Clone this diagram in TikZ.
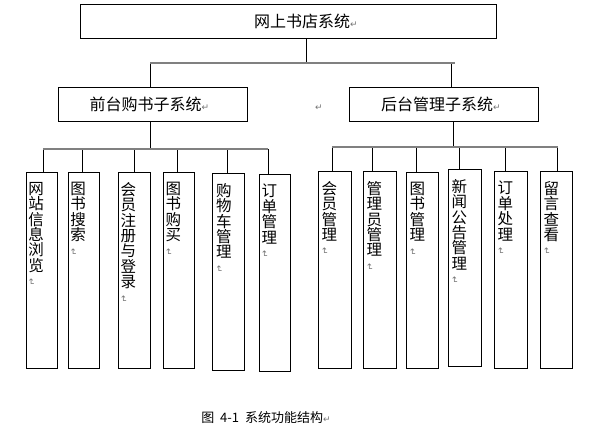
\documentclass[tikz,border=0pt]{standalone}
\usepackage{fontspec}
\usepackage{graphicx}
\setmainfont{Noto Sans CJK SC}
\newfontfamily\dejavu{DejaVu Sans}
\usetikzlibrary{calc}
\newcommand\pmark{{\dejavu\color{black!55}\fontsize{9}{9}\selectfont ↵}}
\newcommand\vpmark{\rotatebox{-90}{\pmark}}
\newcommand\myvfont{\fontsize{15.5}{15.4}\selectfont\setlength{\lineskiplimit}{-20pt}}
\tikzset{
  box/.style={draw=black, line width=0.8pt, inner sep=0pt, fill=none},
  vbox/.style={box, anchor=north west},
  txt/.style={inner sep=0pt, font=\fontsize{16}{16}\selectfont},
  vtxt/.style={inner sep=0pt, anchor=north west, align=left, font=\myvfont},
  conn/.style={draw=black, line width=0.8pt},
  bar/.style={draw=black!50, line width=2pt},
  captxt/.style={inner sep=0pt, font=\fontsize{13}{13}\selectfont},
}
\begin{document}
\begin{tikzpicture}[x=1pt,y=-1pt]
\useasboundingbox (0,0) rectangle (589,438);
% top level
\node[box, minimum width=416, minimum height=34] (root) at (288,21.3) {};
\node[txt] (roott) at (306,21) {网上书店系统\pmark};
% second level
\node[box, minimum width=189, minimum height=34] (front) at (152.8,104.3) {};
\node[txt] (frontt) at (149.5,104) {前台购书子系统\pmark};
\node[box, minimum width=189, minimum height=34] (back) at (443.8,104.3) {};
\node[txt] (backt) at (440.8,104) {后台管理子系统\pmark};
\node[inner sep=0pt] (stray) at (319,108) {\pmark};
% third level boxes
\node[vbox, minimum width=31.3, minimum height=196] (b1) at (25.7,172) {};
\node[vbox, minimum width=31.6, minimum height=196] (b2) at (67.7,172) {};
\node[vbox, minimum width=32, minimum height=196] (b3) at (118,172) {};
\node[vbox, minimum width=31, minimum height=196] (b4) at (163,172) {};
\node[vbox, minimum width=32, minimum height=197] (b5) at (212,173) {};
\node[vbox, minimum width=31, minimum height=197] (b6) at (259,174) {};
\node[vbox, minimum width=33, minimum height=197] (b7) at (318,171) {};
\node[vbox, minimum width=33, minimum height=197] (b8) at (363,171) {};
\node[vbox, minimum width=32, minimum height=196] (b9) at (406,172) {};
\node[vbox, minimum width=33, minimum height=197] (b10) at (448,169) {};
\node[vbox, minimum width=33, minimum height=197] (b11) at (494,171) {};
\node[vbox, minimum width=32, minimum height=197] (b12) at (540,171) {};
% vertical texts
\node[vtxt] (t1) at ($(b1.north west)+(2.5,10)$) {网\\站\\信\\息\\浏\\览\\[-8pt]\vpmark};
\node[vtxt] (t2) at ($(b2.north west)+(2.5,10)$) {图\\书\\搜\\索\\[-8pt]\vpmark};
\node[vtxt] (t3) at ($(b3.north west)+(2.5,10)$) {会\\员\\注\\册\\与\\登\\录\\[-8pt]\vpmark};
\node[vtxt] (t4) at ($(b4.north west)+(2.5,10)$) {图\\书\\购\\买\\[-8pt]\vpmark};
\node[vtxt] (t5) at ($(b5.north west)+(4,10)$) {购\\物\\车\\管\\理\\[-8pt]\vpmark};
\node[vtxt] (t6) at ($(b6.north west)+(2.5,10)$) {订\\单\\管\\理\\[-8pt]\vpmark};
\node[vtxt] (t7) at ($(b7.north west)+(3.5,10)$) {会\\员\\管\\理\\[-8pt]\vpmark};
\node[vtxt] (t8) at ($(b8.north west)+(3.5,10)$) {管\\理\\员\\管\\理\\[-8pt]\vpmark};
\node[vtxt] (t9) at ($(b9.north west)+(3.5,10)$) {图\\书\\管\\理\\[-8pt]\vpmark};
\node[vtxt] (t10) at ($(b10.north west)+(3.5,10)$) {新\\闻\\公\\告\\管\\理\\[-8pt]\vpmark};
\node[vtxt] (t11) at ($(b11.north west)+(3.5,10)$) {订\\单\\处\\理\\[-8pt]\vpmark};
\node[vtxt] (t12) at ($(b12.north west)+(3.5,10)$) {留\\言\\查\\看\\[-8pt]\vpmark};
% caption
\node[captxt] (caption) at (266,418) {图\hspace{0.45em}4-1\hspace{0.45em}系统功能结构\pmark};
% connector coordinates
\coordinate (tb) at (306,62.7);
\coordinate (tbL) at (150,62.7);
\coordinate (tbR) at (455,62.7);
\coordinate (tdR) at (451.7,62.7);
\coordinate (lb) at (150.7,149);
\coordinate (rb) at (453.3,147);
\coordinate (d1) at (43,149);
\coordinate (d2) at (82,149);
\coordinate (d3) at (134,149);
\coordinate (d4) at (177,149);
\coordinate (d5) at (227,149);
\coordinate (d6) at (268,149);
\coordinate (d7) at (332,147);
\coordinate (d8) at (372,147);
\coordinate (d9) at (416,147);
\coordinate (d10) at (459,147);
\coordinate (d11) at (505,147);
\coordinate (d12) at (557.5,147);
% connectors
\draw[conn] (tb |- root.south) -- (tb);
\draw[conn] (tbL) -- (tbL |- front.north);
\draw[conn] (tdR) -- (tdR |- back.north);
\draw[conn] (lb |- front.south) -- (lb);
\draw[conn] (rb |- back.south) -- (rb);
\foreach \i in {1,...,12} {\draw[conn] (d\i) -- (d\i |- b\i.north);}
% bars
\draw[bar] (tbL) -- (tbR);
\draw[bar] (d1) -- (d6);
\draw[bar] (d7) -- (d12);
\end{tikzpicture}
\end{document}
